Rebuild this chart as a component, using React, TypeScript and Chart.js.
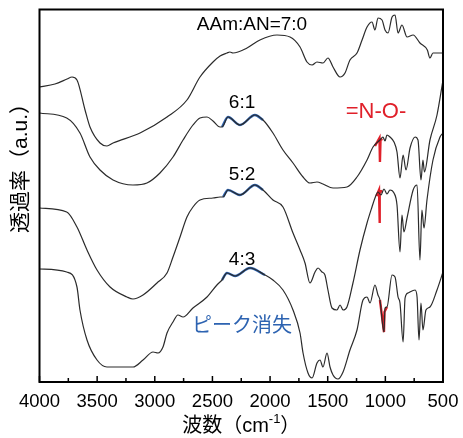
import React, { useEffect, useRef } from 'react';
import { Chart, registerables } from 'chart.js';
Chart.register(...registerables);

// x axis ticks (wavenumber, cm-1)
const xMajorTicks = [4000, 3500, 3000, 2500, 2000, 1500, 1000, 500];
const xMinorTicks = [3750, 3250, 2750, 2250, 1750, 1250, 750];

// AAm:AN = 7:0
const wn70 = [4000,3866,3761,3718,3675,3605,3562,3475,3415,3362,3128,2894,2721,2608,2495,2434,2374,2348,2322,2200,2088,1940,1827,1740,1680,1636,1593,1541,1498,1454,1393,1350,1307,1246,1202,1159,1116,1090,1064,1029,1003,977,942,916,890,856,812,759,700,636,613,587,552,500];
const t70 = [295,298,303,305,302,272,255,239,236,239,249,265,282,305,320,326,329,330,329,334,342,347,345,335,320,317,320,319,324,315,305,309,322,329,342,355,360,352,364,362,352,349,365,367,349,357,345,347,339,332,324,329,329,329];

// 6:1
const wn61 = [4000,3764,3649,3562,3475,3362,3189,3068,2955,2842,2755,2669,2608,2547,2495,2434,2417,2365,2261,2131,2061,1975,1888,1801,1714,1654,1593,1541,1454,1333,1246,1159,1107,1047,1021,1003,986,960,925,899,873,846,821,786,742,717,691,674,661,613,552,500];
const t61 = [269,264,249,225,212,202,197,199,209,225,242,257,264,265,261,255,255,265,257,267,262,249,232,219,205,199,200,198,194,195,205,222,235,242,245,241,247,245,240,230,204,227,212,234,245,242,202,222,210,242,267,302];

// 5:2
const wn52 = [4000,3764,3675,3588,3501,3388,3241,3189,3102,2981,2894,2842,2781,2721,2669,2608,2495,2434,2408,2365,2261,2131,2061,1975,1888,1801,1740,1697,1654,1610,1584,1550,1524,1498,1463,1420,1393,1367,1333,1281,1220,1159,1116,1090,1064,1038,1012,986,960,925,899,873,856,839,812,759,725,700,683,665,639,587,526,500];
const t52 = [174,170,155,132,112,95,85,83,87,99,109,125,145,165,175,182,184,185,185,192,187,197,192,182,175,149,132,119,99,110,114,110,107,92,74,72,77,72,75,99,132,159,175,184,190,187,193,188,192,189,177,130,167,150,164,192,197,122,172,154,182,222,245,249];

// 4:3
const wn43 = [4000,3764,3675,3649,3588,3501,3415,3189,3102,3015,2972,2929,2894,2842,2799,2755,2669,2547,2461,2417,2374,2304,2174,2044,1975,1888,1801,1740,1714,1671,1636,1593,1567,1541,1506,1480,1454,1411,1367,1307,1246,1194,1159,1133,1090,1064,1047,1012,1003,986,942,916,890,873,846,829,803,742,725,708,691,674,648,613,552,500];
const t43 = [113,110,95,72,42,22,15,15,22,30,29,35,49,60,67,65,74,85,97,102,109,106,114,107,102,92,72,49,29,9,4,19,22,15,29,15,7,3,10,32,52,82,85,79,97,87,82,50,74,75,107,105,85,79,40,84,89,92,85,42,79,52,72,75,92,110];

// blue highlighted (peak disappearance region)
const wnBlue61 = [2417,2365,2261,2131,2061];
const tBlue61 = [255,265,257,267,262];
const wnBlue52 = [2408,2365,2261,2131,2061];
const tBlue52 = [185,192,187,197,192];
const wnBlue43 = [2417,2374,2304,2174,2044];
const tBlue43 = [102,109,106,114,107];

// red highlighted =N-O- peaks
const wnRed61 = [1090,1051,1047,1042,1025];
const tRed61 = [236,244,220,242,243];
const wnRed52 = [1077,1055,1051,1047,1025];
const tRed52 = [186,192,159,190,191];
const wnRed43 = [1047,1012,1008,986];
const tRed43 = [82,50,70,75];

const pts = (xs: number[], ys: number[]) => xs.map((x, i) => ({ x, y: ys[i] }));

const LATIN = '"Liberation Sans", Arial, "Noto Sans CJK JP", sans-serif';
const BLACK = '#2b2b2b';
const BLUE = '#2d63b1';
const RED = '#e0202a';

const decor = {
  id: 'decor',
  afterDraw(chart: any) {
    const { ctx, chartArea: a, scales } = chart;
    const x = scales.x, y = scales.y;
    ctx.save();
    // frame
    ctx.strokeStyle = '#000';
    ctx.lineWidth = 2;
    ctx.strokeRect(a.left, a.top, a.right - a.left, a.bottom - a.top);
    // inside ticks
    ctx.lineWidth = 1.5;
    for (const v of xMajorTicks) {
      const px = x.getPixelForValue(v);
      ctx.beginPath(); ctx.moveTo(px, a.bottom); ctx.lineTo(px, a.bottom - 6); ctx.stroke();
    }
    for (const v of xMinorTicks) {
      const px = x.getPixelForValue(v);
      ctx.beginPath(); ctx.moveTo(px, a.bottom); ctx.lineTo(px, a.bottom - 4); ctx.stroke();
    }
    // tick labels
    ctx.fillStyle = '#000';
    ctx.font = `18.5px ${LATIN}`;
    ctx.textAlign = 'center';
    ctx.textBaseline = 'middle';
    for (const v of xMajorTicks) {
      ctx.fillText(String(v), x.getPixelForValue(v), a.bottom + 20);
    }
    // x title
    const cx = (a.left + a.right) / 2;
    const ty = a.bottom + 44;
    const big = `20px ${LATIN}`;
    const small = `13px ${LATIN}`;
    ctx.font = big;
    const p1 = '波数（cm';
    const p3 = '）';
    const w1 = ctx.measureText(p1).width;
    const w3 = ctx.measureText(p3).width;
    ctx.font = small;
    const p2 = '-1';
    const w2 = ctx.measureText(p2).width;
    let sx = cx - (w1 + w2 + w3) / 2;
    ctx.textAlign = 'left';
    ctx.font = big;
    ctx.fillText(p1, sx, ty);
    ctx.font = small;
    ctx.fillText(p2, sx + w1, ty - 7);
    ctx.font = big;
    ctx.fillText(p3, sx + w1 + w2, ty);
    // y title
    ctx.save();
    ctx.translate(21, 163);
    ctx.rotate(-Math.PI / 2);
    ctx.textAlign = 'center';
    ctx.font = `21px ${LATIN}`;
    ctx.fillText('透過率（a.u.）', 0, 0);
    ctx.restore();
    // annotations
    const txt = (s: string, wn: number, val: number, font: string, color: string) => {
      ctx.font = font;
      ctx.fillStyle = color;
      ctx.textAlign = 'center';
      ctx.textBaseline = 'middle';
      ctx.fillText(s, x.getPixelForValue(wn), y.getPixelForValue(val));
    };
    txt('AAm:AN=7:0', 2157, 357, `19px ${LATIN}`, '#000');
    txt('6:1', 2243, 279, `19px ${LATIN}`, '#000');
    txt('5:2', 2243, 207, `19px ${LATIN}`, '#000');
    txt('4:3', 2243, 122, `19px ${LATIN}`, '#000');
    txt('=N-O-', 1081, 270, `22px ${LATIN}`, RED);
    txt('ピーク消失', 2243, 56, `20px ${LATIN}`, BLUE);
    ctx.restore();
  },
};

export default function App() {
  const ref = useRef<HTMLCanvasElement | null>(null);
  useEffect(() => {
    if (!ref.current) return;
    const black = (xs: number[], ys: number[]) => ({
      data: pts(xs, ys), borderColor: BLACK, borderWidth: 1.2, pointRadius: 0,
      cubicInterpolationMode: 'monotone' as const, fill: false,
    });
    const blue = (xs: number[], ys: number[]) => ({
      data: pts(xs, ys), borderColor: BLUE, borderWidth: 2.4, pointRadius: 0,
      cubicInterpolationMode: 'monotone' as const, fill: false,
    });
    const red = (xs: number[], ys: number[]) => ({
      data: pts(xs, ys), borderColor: RED, borderWidth: 2.4, pointRadius: 0,
      tension: 0, fill: false,
    });
    const chart = new Chart(ref.current, {
      type: 'line',
      data: {
        datasets: [
          black(wn70, t70), black(wn61, t61), black(wn52, t52), black(wn43, t43),
          blue(wnBlue61, tBlue61), blue(wnBlue52, tBlue52), blue(wnBlue43, tBlue43),
          red(wnRed61, tRed61), red(wnRed52, tRed52), red(wnRed43, tRed43),
        ] as any,
      },
      options: {
        responsive: false,
        animation: false,
        devicePixelRatio: 1,
        parsing: false as any,
        layout: { padding: { left: 39.5, right: 20, top: 9.5, bottom: 56 } },
        plugins: { legend: { display: false }, tooltip: { enabled: false } },
        scales: {
          x: { type: 'linear', min: 500, max: 4000, reverse: true, display: false },
          y: { type: 'linear', min: 0, max: 372.5, display: false },
        },
      },
      plugins: [decor],
    });
    return () => chart.destroy();
  }, []);
  return (
    <div style={{ position: 'fixed', left: 0, top: 0, width: 463, height: 438, background: '#fff' }}>
      <canvas ref={ref} width={463} height={438} style={{ display: 'block' }} />
    </div>
  );
}
